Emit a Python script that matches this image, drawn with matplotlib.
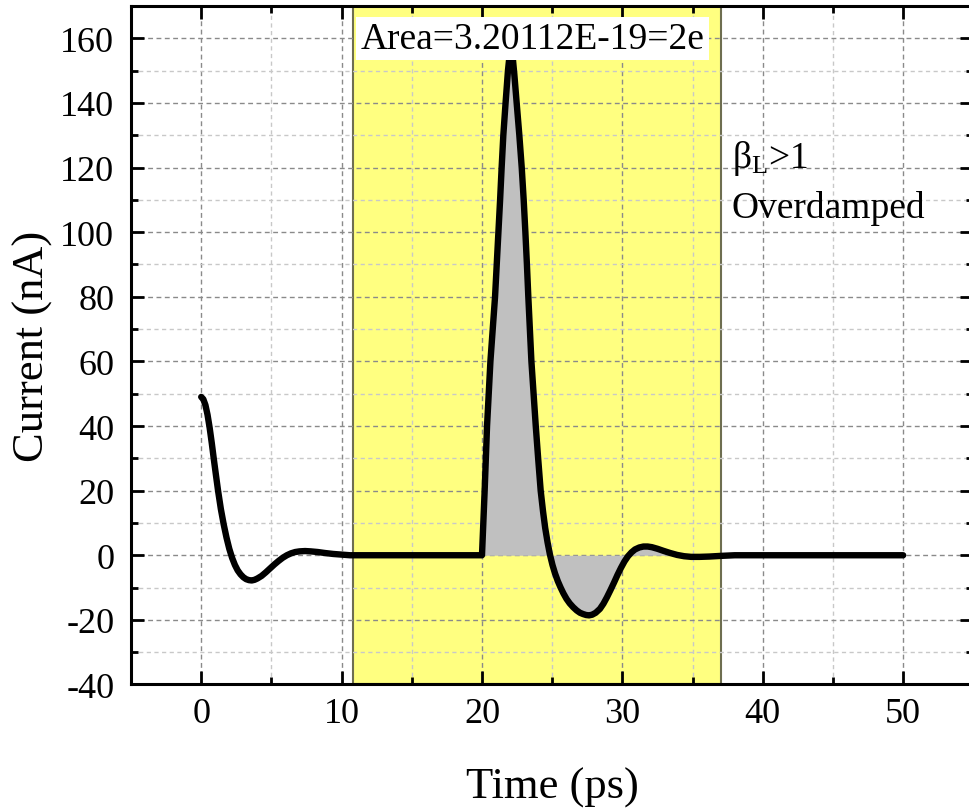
import matplotlib
matplotlib.use("Agg")
import matplotlib.pyplot as plt
import numpy as np

plt.rcParams["font.family"] = ["Liberation Serif", "DejaVu Serif"]
plt.rcParams["mathtext.fontset"] = "custom"
plt.rcParams["mathtext.rm"] = "Liberation Serif"
plt.rcParams["mathtext.it"] = "Liberation Serif:italic"
plt.rcParams["axes.unicode_minus"] = False

# current trace (ps, nA)
time_ps = [
    0.0, 0.15, 0.3, 0.45, 0.6, 0.75, 0.9, 1.05, 1.2, 1.4, 1.6, 1.8, 2.0, 2.2,
    2.4, 2.6, 2.8, 3.0, 3.2, 3.4, 3.6, 3.8, 4.0, 4.3, 4.6, 4.9, 5.2, 5.5, 5.8,
    6.1, 6.4, 6.7, 7.0, 7.4, 7.8, 8.3, 8.8, 9.4, 10.0, 10.6, 12.0, 15.0, 18.0,
    20.0, 20.19, 20.36, 20.6, 20.93, 21.05, 21.17, 21.29, 21.4, 21.52, 21.68,
    21.85, 21.97, 22.07, 22.17, 22.3, 22.47, 22.66, 22.83, 22.97, 23.09, 23.2,
    23.3, 23.52, 23.83, 24.0, 24.18, 24.35, 24.5, 24.67, 24.84, 25.02, 25.2, 25.4,
    25.6, 25.8, 26.02, 26.25, 26.5, 26.75, 26.98, 27.2, 27.42, 27.63, 27.85,
    28.1, 28.4, 28.65, 28.9, 29.15, 29.4, 29.65, 29.9, 30.15, 30.4, 30.65,
    30.9, 31.2, 31.5, 31.8, 32.1, 32.5, 32.9, 33.4, 33.9, 34.4, 34.9, 35.5,
    36.2, 37.0, 38.0, 42.0, 46.0, 50.0,
]
current_nA = [
    49.0, 48.3, 46.5, 43.5, 39.5, 34.8, 29.7, 24.8, 20.0, 14.3, 9.6, 5.5, 2.0, -0.8,
    -3.0, -4.7, -5.9, -6.8, -7.4, -7.7, -7.8, -7.6, -7.2, -6.4, -5.3, -4.1, -2.9, -1.8, -0.8,
    0.0, 0.6, 1.0, 1.2, 1.3, 1.2, 1.0, 0.7, 0.4, 0.2, 0.0, 0.0, 0.0, 0.0,
    0.0, 20.0, 40.0, 60.0, 80.0, 90.0, 100.0, 110.0, 120.0, 130.0, 140.0,
    150.0, 155.0, 157.0, 155.0, 149.0, 140.0, 130.0, 120.0, 110.0, 100.0, 90.0,
    80.0, 60.0, 40.0, 30.0, 20.0, 13.5, 8.5, 4.0, 0.2, -3.0, -5.6, -8.0,
    -10.0, -11.8, -13.5, -14.9, -16.1, -17.1, -17.8, -18.2, -18.5, -18.6, -18.4,
    -17.8, -16.6, -15.0, -13.0, -10.8, -8.5, -6.1, -3.9, -1.9, -0.3, 0.9,
    1.8, 2.4, 2.7, 2.7, 2.5, 2.0, 1.4, 0.7, 0.1, -0.3, -0.5, -0.5,
    -0.4, -0.2, 0.0, 0.0, 0.0, 0.0,
]
window = [10.8, 37.0]
area_text = "Area=3.20112E-19=2e"

t = np.array(time_ps)
i = np.array(current_nA)

fig = plt.figure(figsize=(9.69, 8.12), dpi=100)
ax = fig.add_axes([0.1352, 0.1558, 0.8693, 0.8356])

ax.axvspan(window[0], window[1], facecolor="#ffff80", edgecolor="#6e6e50",
           linewidth=1.5, zorder=0)
mask = (t >= 20) & (t <= window[1])
ax.fill_between(t, i, 0, where=mask, color="#c0c0c0", linewidth=0, zorder=1)
ax.plot(t, i, color="black", linewidth=4.6, solid_capstyle="round",
        solid_joinstyle="round", zorder=3)

ax.set_xlim(-5, 55)
ax.set_ylim(-40, 170)
ax.set_xticks(np.arange(0, 51, 10))
ax.set_xticks(np.arange(5, 56, 10), minor=True)
ax.set_yticks(np.arange(-40, 161, 20))
ax.set_yticks(np.arange(-30, 171, 20), minor=True)

ax.set_axisbelow(True)
ax.grid(which="major", color="#8a8a8a", linestyle=(0, (3.5, 2.5)), linewidth=1.0)
ax.grid(which="minor", color="#c8c8c8", linestyle=(0, (3.0, 2.5)), linewidth=1.0)

for s in ax.spines.values():
    s.set_linewidth(2.2)
ax.tick_params(which="both", direction="in", top=True, right=True, width=2.0)
ax.tick_params(which="major", length=9.5, labelsize=26)
ax.tick_params(which="minor", length=5)
ax.tick_params(axis="x", which="major", pad=9)
ax.tick_params(axis="y", which="major", pad=12)

ax.set_xlabel("Time (ps)", fontsize=32, labelpad=26)
ax.set_ylabel("Current (nA)", fontsize=32, labelpad=5)

ax.text(23.6, 157, area_text, fontsize=27, ha="center", va="baseline",
        bbox=dict(boxstyle="square,pad=0.12", facecolor="white", edgecolor="none"),
        zorder=5)
ax.text(37.8, 120.3, r"β$_{\mathrm{L}}$>1", fontsize=27, ha="left", va="baseline", zorder=5)
ax.text(37.8, 104.8, "Overdamped", fontsize=27, ha="left", va="baseline", zorder=5)

fig.savefig("out.png", dpi=100)
